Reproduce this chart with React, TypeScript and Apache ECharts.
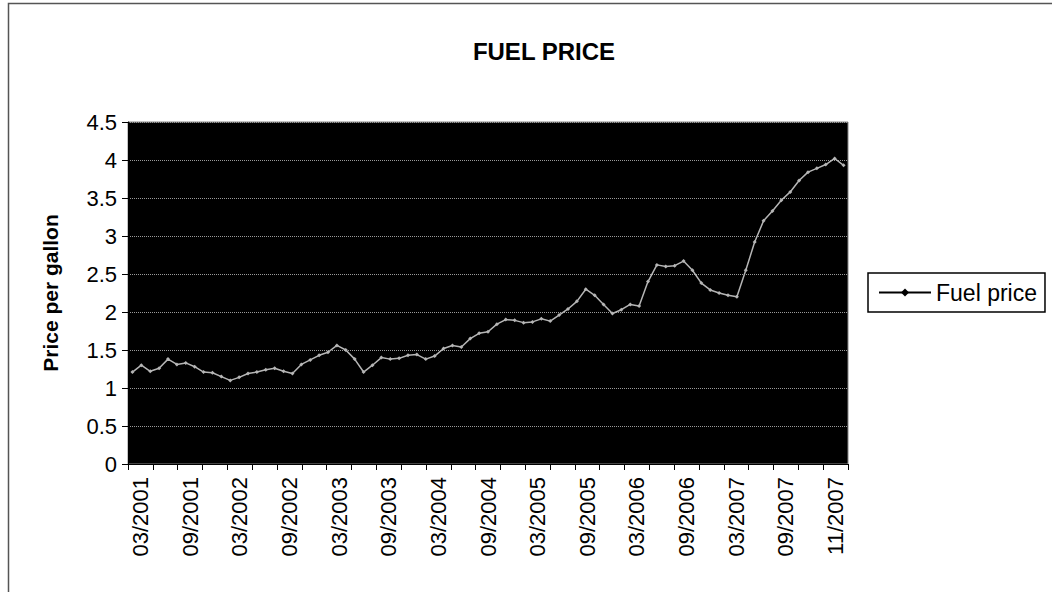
import React, { useEffect, useRef } from "react";
import * as echarts from "echarts";

const TITLE = "FUEL PRICE";
const Y_NAME = "Price per gallon";
const SERIES_NAME = "Fuel price";

// Visible axis tick labels (every other category band)
const tickLabels = [
  "03/2001", "09/2001", "03/2002", "09/2002", "03/2003", "09/2003", "03/2004",
  "09/2004", "03/2005", "09/2005", "03/2006", "09/2006", "03/2007", "09/2007", "11/2007",
];

// Monthly data points 03/2001 .. 11/2007
const startYear = 2001;
const startMonth = 3;
const fuelPrice = [
  1.21, 1.3, 1.22, 1.26, 1.38, 1.31, 1.33, 1.28, 1.21, 1.2,
  1.15, 1.1, 1.14, 1.19, 1.21, 1.24, 1.26, 1.22, 1.19, 1.31,
  1.37, 1.43, 1.47, 1.56, 1.5, 1.38, 1.21, 1.3, 1.4, 1.38,
  1.39, 1.43, 1.44, 1.38, 1.42, 1.52, 1.56, 1.54, 1.65, 1.72,
  1.74, 1.84, 1.9, 1.89, 1.86, 1.87, 1.91, 1.88, 1.96, 2.04,
  2.14, 2.3, 2.22, 2.1, 1.98, 2.03, 2.1, 2.08, 2.4, 2.62,
  2.6, 2.61, 2.67, 2.55, 2.38, 2.29, 2.25, 2.22, 2.2, 2.55,
  2.92, 3.2, 3.33, 3.47, 3.58, 3.73, 3.84, 3.89, 3.94, 4.02,
  3.93,
];

const months: string[] = fuelPrice.map((_, i) => {
  const m0 = startMonth - 1 + i;
  const y = startYear + Math.floor(m0 / 12);
  const m = (m0 % 12) + 1;
  return (m < 10 ? "0" + m : "" + m) + "/" + y;
});

// 29 category bands: a label on every other band
const bandCategories: string[] = [];
tickLabels.forEach((t, i) => {
  bandCategories.push(t);
  if (i < tickLabels.length - 1) bandCategories.push("");
});

const FONT = "'Liberation Sans', Arial, sans-serif";

export default function App() {
  const ref = useRef<HTMLDivElement>(null);
  useEffect(() => {
    document.body.style.margin = "0";
    const chart = echarts.init(ref.current!, null, { renderer: "svg" });
    chart.setOption({
      animation: false,
      backgroundColor: "#fff",
      textStyle: { fontFamily: FONT },
      title: {
        text: TITLE,
        left: 539,
        top: 34,
        textAlign: "center",
        textStyle: { fontFamily: FONT, fontSize: 24, fontWeight: "bold", color: "#000" },
      },
      graphic: [
        {
          type: "rect",
          shape: { x: 8.5, y: 3.5, width: 1060, height: 620 },
          style: { fill: "none", stroke: "#555", lineWidth: 1.5 },
          silent: true,
        },
      ],
      legend: {
        left: 868,
        top: 273,
        orient: "vertical",
        padding: [8, 8, 8, 10],
        borderColor: "#000",
        borderWidth: 1.5,
        itemWidth: 52,
        itemHeight: 10,
        itemGap: 0,
        textStyle: { fontFamily: FONT, fontSize: 23, color: "#000" },
        data: [
          {
            name: SERIES_NAME,
            itemStyle: { color: "#000" },
            lineStyle: { color: "#000", width: 2 },
          },
        ],
      },
      grid: {
        left: 128,
        top: 122,
        right: 204,
        bottom: 128,
        show: true,
        backgroundColor: "#000",
        borderColor: "#888",
        borderWidth: 1,
      },
      xAxis: [
        {
          type: "category",
          data: bandCategories,
          boundaryGap: true,
          axisLine: { lineStyle: { color: "#000", width: 1 } },
          axisTick: { show: true, interval: 0, length: 6, lineStyle: { color: "#000" } },
          axisLabel: {
            interval: 0,
            rotate: 90,
            margin: 13,
            color: "#000",
            fontFamily: FONT,
            fontSize: 22,
          },
          splitLine: { show: false },
        },
        {
          type: "category",
          data: months,
          boundaryGap: true,
          show: false,
          position: "bottom",
        },
      ],
      yAxis: {
        type: "value",
        min: 0,
        max: 4.5,
        interval: 0.5,
        name: Y_NAME,
        nameLocation: "middle",
        nameGap: 67,
        nameTextStyle: { fontFamily: FONT, fontSize: 21, fontWeight: "bold", color: "#000" },
        axisLine: { show: true, lineStyle: { color: "#000", width: 1 } },
        axisTick: { show: true, length: 6, lineStyle: { color: "#000" } },
        axisLabel: { color: "#000", fontFamily: FONT, fontSize: 22, margin: 11 },
        splitLine: { show: true, lineStyle: { color: "#9a9a9a", type: "dotted", width: 1 } },
      },
      series: [
        {
          name: SERIES_NAME,
          type: "line",
          xAxisIndex: 1,
          data: fuelPrice,
          symbol: "diamond",
          symbolSize: 4,
          lineStyle: { color: "#b5b5b5", width: 1.5 },
          itemStyle: { color: "#b5b5b5" },
        },
      ],
    });
    return () => chart.dispose();
  }, []);
  return <div ref={ref} style={{ width: 1052, height: 592 }} />;
}
